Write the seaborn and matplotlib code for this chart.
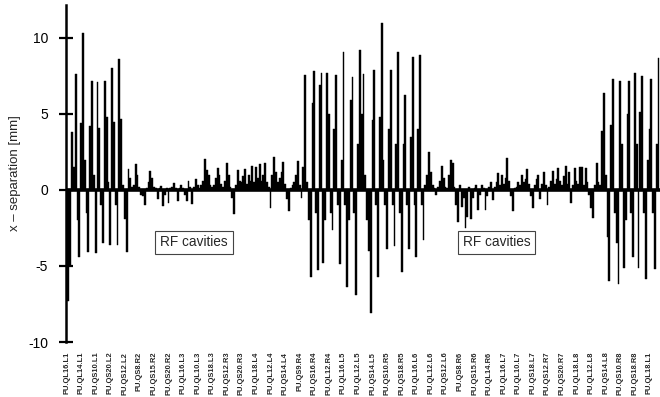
import numpy as np
import pandas as pd
import matplotlib
matplotlib.use("Agg")
import matplotlib.pyplot as plt
import seaborn as sns

# x-separation per beam position monitor (8 monitors per labelled tick)
separation = [
    -3.0, -7.3, -5.0, 3.8, 1.5, 7.6, -2.0, -4.4,
    4.4, 10.3, 2.0, -1.5, -4.1, 4.2, 7.2, 1.0,
    -4.15, 7.1, 4.1, -1.0, -3.5, 7.2, 4.8, 0.5,
    -3.6, 8.0, 4.5, -1.0, -3.6, 8.6, 4.7, 0.3,
    -1.9, -4.1, 1.4, 0.8, 0.2, 0.3, 1.7, 1.0,
    0.2, -0.3, -0.4, -1.0, 0.1, 0.5, 1.25, 0.8,
    0.2, 0.1, -0.57, 0.1, 0.26, -1.05, -0.3, 0.1,
    -0.83, 0.1, 0.2, 0.48, 0.1, -0.72, 0.1, 0.3,
    0.1, -0.3, -0.72, 0.6, 0.2, -0.94, 0.2, 0.7,
    0.3, 0.1, 0.3, 0.6, 2.06, 1.3, 1.0, 0.3,
    0.2, 0.3, 0.8, 1.47, 1.0, 0.4, 0.2, 0.6,
    1.75, 1.0, 0.2, -0.5, -1.6, 0.3, 1.3, 0.6,
    0.5, 0.9, 1.36, 0.4, 1.0, 0.6, 1.58, 0.5,
    1.5, 0.8, 1.7, 0.6, 1.0, 1.8, 0.5, 0.2,
    -1.16, 1.0, 2.2, 1.2, 0.5, 0.8, 1.2, 1.84,
    0.4, -0.6, -1.38, 0.1, 0.3, 0.5, 1.0, 1.9,
    0.3, -0.55, 1.5, 7.57, 0.5, -2.0, -5.7, 5.7,
    7.8, -1.5, -5.26, 6.9, 7.68, -4.8, -2.0, 7.68,
    5.0, -1.5, -2.6, 4.0, 7.57, -1.0, -4.9, 2.0,
    9.1, -1.0, -6.36, -2.0, 5.9, 7.4, -1.5, -6.9,
    3.0, 9.2, 5.0, 7.6, 1.0, -2.0, -4.0, -8.1,
    4.6, 7.9, -1.0, -5.7, 4.8, 11.0, 2.0, -1.0,
    -3.9, 4.0, 7.9, -1.0, -3.7, 3.0, 9.1, -1.5,
    -5.4, 3.0, 6.25, -1.0, -3.9, 3.5, 8.77, -1.0,
    -4.4, 4.0, 8.9, -1.0, -3.3, 0.3, 1.0, 2.5,
    1.2, 0.3, 0.1, -0.33, 0.2, 0.6, 1.6, 0.8,
    0.2, 0.1, 1.0, 2.0, 1.8, 0.2, -1.0, -2.1,
    0.3, -1.1, -0.5, -2.5, -1.8, 0.2, -1.9, -0.5,
    0.1, 0.35, -1.3, -0.3, 0.35, 0.1, -1.3, -0.4,
    0.2, 0.55, -0.66, 0.2, 0.5, 1.1, 0.3, 1.0,
    0.4, 0.8, 2.1, 0.6, -0.4, -1.4, 0.1, 0.2,
    0.5, 0.3, 1.0, 0.5, 0.7, 1.36, 0.4, -0.4,
    -1.2, 0.3, 0.7, 1.0, -0.6, 0.4, 1.2, 0.3,
    -1.0, 0.2, 0.6, 1.27, 0.4, 0.7, 1.42, 0.6,
    0.3, 0.9, 1.6, 0.4, 1.2, -0.88, 0.3, 1.45,
    0.6, 0.4, 1.54, 1.5, 0.3, 1.42, 0.5, -0.3,
    -1.2, -1.86, 0.3, 1.8, 0.5, 0.3, 3.9, 6.4,
    1.0, -3.1, -6.0, 4.3, 7.3, -1.5, -3.5, -6.2,
    7.2, 3.0, -5.1, -2.0, 5.0, 7.2, -1.5, -4.4,
    7.7, 3.0, -5.1, 5.1, 7.5, -1.5, -5.85, 2.0,
    4.0, 7.3, -1.5, -5.2, 3.0, 8.7,
]

monitor_labels = [
    "PU.QL16.L1", "PU.QL14.L1", "PU.QS10.L1",
    "PU.QS20.L2", "PU.QS12.L2",
    "PU.QS8.R2", "PU.QS15.R2", "PU.QS20.R2",
    "PU.QL16.L3", "PU.QL10.L3", "PU.QS18.L3",
    "PU.QS12.R3", "PU.QS20.R3",
    "PU.QL18.L4", "PU.QL12.L4", "PU.QS14.L4",
    "PU.QS9.R4", "PU.QS16.R4", "PU.QL12.R4",
    "PU.QL16.L5", "PU.QL12.L5", "PU.QS14.L5",
    "PU.QS10.R5", "PU.QS18.R5",
    "PU.QL16.L6", "PU.QL12.L6", "PU.QS12.L6",
    "PU.QS8.R6", "PU.QS15.R6", "PU.QL14.R6",
    "PU.QL16.L7", "PU.QL10.L7", "PU.QS18.L7",
    "PU.QS12.R7", "PU.QS20.R7",
    "PU.QL18.L8", "PU.QL12.L8", "PU.QS14.L8",
    "PU.QS10.R8", "PU.QS18.R8",
    "PU.QL18.L1",
]
monitors_per_label = 8

y_ticks = [-10, -5, 0, 5, 10]
y_label = "x \u2013 separation [mm]"
annotation_text = "RF cavities"
annotation_monitor = [70.0, 236]
annotation_value = [-3.45, -3.45]

sns.set_style("white")
plt.rcParams["font.family"] = ["Liberation Sans", "DejaVu Sans"]

fig = plt.figure(figsize=(6.6, 3.97), dpi=100)
ax = fig.add_axes([0.1, 0.1385, 0.9, 0.849])

df = pd.DataFrame({"monitor": np.arange(len(separation)), "sep": separation})
sns.barplot(data=df, x="monitor", y="sep", color="black", saturation=1,
            width=1.0, linewidth=0.3, edgecolor="black", errorbar=None, ax=ax)
ax.axhline(0, color="black", lw=2.6, zorder=3)

ax.set_xlim(-0.3, 325.8)
ax.set_ylim(-10, 12.17)

ax.set_yticks(y_ticks)
ax.set_yticklabels([str(v) for v in y_ticks])
ax.tick_params(axis="y", direction="inout", length=10, width=1.6, pad=8,
               labelsize=10, colors="black", left=True)

tick_pos = np.arange(len(monitor_labels)) * monitors_per_label
ax.set_xticks(tick_pos)
ax.set_xticklabels(monitor_labels, rotation=90, fontsize=5.4, fontweight="bold",
                   family=["Liberation Sans Narrow", "Liberation Sans"],
                   va="top", ha="center")
ax.tick_params(axis="x", length=0, pad=7)

for s in ["top", "right", "bottom"]:
    ax.spines[s].set_visible(False)
ax.spines["left"].set_linewidth(1.8)
ax.spines["left"].set_color("black")

ax.set_xlabel("")
ax.set_ylabel(y_label, fontsize=9.5, labelpad=5)

for xm, yv in zip(annotation_monitor, annotation_value):
    ax.text(xm, yv, annotation_text, ha="center", va="center", fontsize=9.8,
            bbox=dict(boxstyle="square,pad=0.35", fc="white", ec="#444444", lw=0.8),
            zorder=5)

fig.savefig("out.png", dpi=100)
